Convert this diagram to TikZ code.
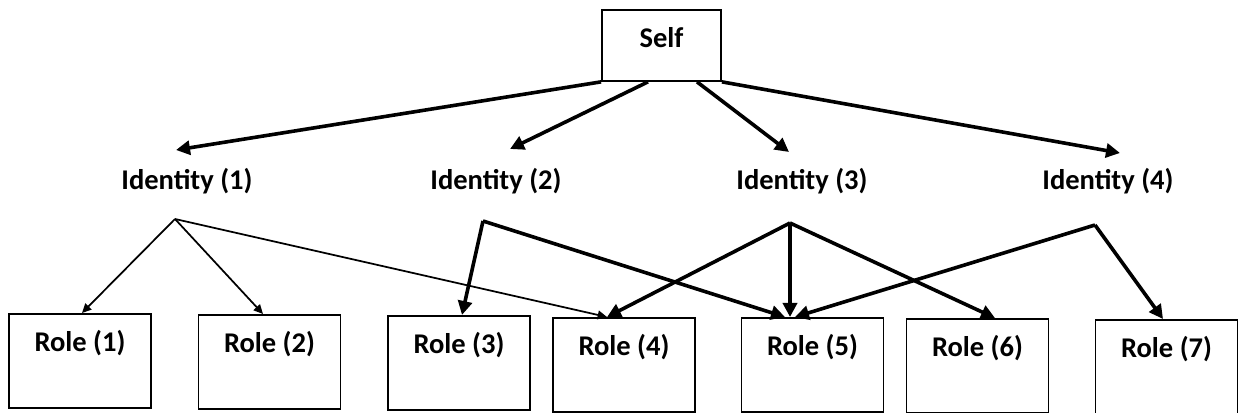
\documentclass[tikz,border=0pt]{standalone}
\usepackage{fontspec}
\setmainfont{Carlito}
\usetikzlibrary{arrows.meta,calc}
\begin{document}
\begin{tikzpicture}[x=0.75pt,y=-0.75pt,
  txt/.style={font=\fontsize{21.4}{24}\selectfont\bfseries, inner sep=0pt},
  selfbox/.style={txt, draw, line width=1.4pt, minimum width=89.25pt,
    text height=28.5pt, text depth=24.75pt, anchor=north},
  rolebox/.style={txt, draw, line width=1.4pt, minimum width=106.5pt,
    text height=28.5pt, text depth=42pt, anchor=north},
  idlabel/.style={txt, anchor=base},
  heavy/.style={line width=2.7pt, -{Triangle[length=10.5pt,width=10.5pt]}},
  light/.style={line width=1.3pt, -{Triangle[length=7pt,width=6.5pt]}}]
\useasboundingbox (0,0) rectangle (1239,413);

% top level
\node[selfbox] (self) at (661.5,9) {Self};

% identities
\node[idlabel] (i1) at (187,190) {Identity (1)};
\node[idlabel] (i2) at (496,190) {Identity (2)};
\node[idlabel] (i3) at (802,190) {Identity (3)};
\node[idlabel] (i4) at (1108,190) {Identity (4)};

% branching points below each identity
\coordinate (f1) at (175,219);
\coordinate (f2) at (483,221);
\coordinate (f3) at (790,223);
\coordinate (f4) at (1095,225);

% roles
\node[rolebox] (r1) at (80,313)    {Role (1)};
\node[rolebox] (r2) at (269.5,314) {Role (2)};
\node[rolebox] (r3) at (459,315)   {Role (3)};
\node[rolebox] (r4) at (624,317)   {Role (4)};
\node[rolebox] (r5) at (812.5,317) {Role (5)};
\node[rolebox] (r6) at (977.5,318) {Role (6)};
\node[rolebox] (r7) at (1166.5,319){Role (7)};

% self -> identities
\draw[heavy] (self.south west) -- ($(i1.base)+(-11,-40)$);
\draw[heavy] ($(self.south)+(-13.5,0)$) -- ($(i2.base)+(14,-41)$);
\draw[heavy] ($(self.south)+(35.5,0)$) -- ($(i3.base)+(-13,-38)$);
\draw[heavy] (self.south east) -- ($(i4.base)+(12,-37)$);

% identity (1) -> roles
\draw[light] (f1) -- ($(r1.north)+(2,0)$);
\draw[light] (f1) -- ($(r2.north)+(-6.5,0)$);
\draw[light] (f1) -- ($(r4.north)+(-17,0)$);

% identity (2) -> roles
\draw[heavy] (f2) -- ($(r3.north)+(3,0)$);
\draw[heavy] (f2) -- ($(r5.north)+(-27.5,0)$);

% identity (3) -> roles
\draw[heavy] (f3) -- ($(r4.north)+(-17,0)$);
\draw[heavy] (f3) -- ($(r5.north)+(-22.5,0)$);
\draw[heavy] (f3) -- ($(r6.north)+(17.5,0)$);

% identity (4) -> roles
\draw[heavy] (f4) -- ($(r5.north)+(-17.5,0)$);
\draw[heavy] (f4) -- ($(r7.north)+(-3.5,0)$);
\end{tikzpicture}
\end{document}
